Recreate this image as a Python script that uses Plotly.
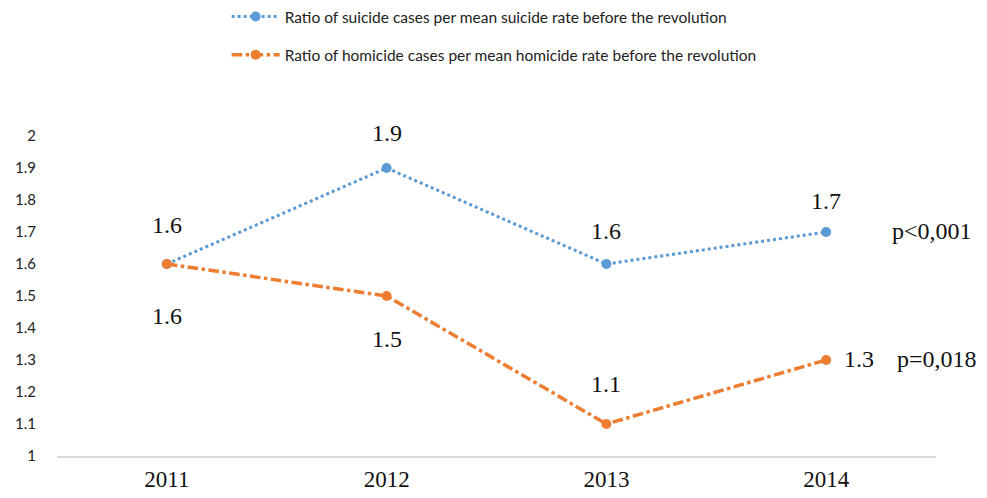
import plotly.graph_objects as go

years = ["2011", "2012", "2013", "2014"]
suicide = [1.6, 1.9, 1.6, 1.7]
homicide = [1.6, 1.5, 1.1, 1.3]
suicide_name = "Ratio of suicide cases per mean suicide rate before the revolution"
homicide_name = "Ratio of homicide cases per mean homicide rate before the revolution"
p_suicide = "p<0,001"
p_homicide = "p=0,018"

blue = "#5B9BD5"
orange = "#ED7D31"

fig = go.Figure()
fig.add_trace(go.Scatter(
    x=years, y=suicide, name=suicide_name, mode="lines+markers",
    line=dict(color=blue, width=3, dash="dot"),
    marker=dict(color=blue, size=10), legendgroup="a"))
fig.add_trace(go.Scatter(
    x=years, y=homicide, name=homicide_name, mode="lines+markers",
    line=dict(color=orange, width=3.5, dash="dashdot"),
    marker=dict(color=orange, size=10), legendgroup="b"))

lab_font = dict(family="Liberation Serif", size=24, color="#111")
s_shift = [(0, 39), (0, 35), (0, 33), (0, 31)]
h_shift = [(0, -52), (0, -43), (0, 40), (33, 1)]
for i, (y, (dx, dy)) in enumerate(zip(suicide, s_shift)):
    fig.add_annotation(x=i, y=y, text=f"{y:.1f}", showarrow=False,
                       xshift=dx, yshift=dy, font=lab_font)
for i, (y, (dx, dy)) in enumerate(zip(homicide, h_shift)):
    fig.add_annotation(x=i, y=y, text=f"{y:.1f}", showarrow=False,
                       xshift=dx, yshift=dy, font=lab_font)

last = len(years) - 1
fig.add_annotation(x=last, y=suicide[-1], text=p_suicide, showarrow=False,
                   xshift=106, yshift=1, font=lab_font)
fig.add_annotation(x=last, y=homicide[-1], text=p_homicide, showarrow=False,
                   xshift=111, yshift=1, font=lab_font)

fig.update_layout(
    width=987, height=498,
    margin=dict(l=57, r=51, t=136, b=42, autoexpand=False),
    paper_bgcolor="white", plot_bgcolor="white",
    showlegend=True,
    legend=dict(orientation="v", x=0.193, xanchor="left",
                y=1.425, yanchor="top",
                font=dict(family="Lato", size=15.5, color="#222"),
                tracegroupgap=15, itemwidth=48),
    xaxis=dict(type="category", range=[-0.5, 3.5], showgrid=False,
               showline=True, linecolor="#D9D9D9", linewidth=1.5,
               ticks="", tickfont=dict(family="Liberation Serif", size=23, color="#111"),
               zeroline=False),
    yaxis=dict(range=[1, 2], dtick=0.1, showgrid=False, zeroline=False,
               showline=False, ticks="", tickformat="~g",
               tickfont=dict(family="Lato", size=15, color="#222")),
)
fig.update_xaxes(ticklabelstandoff=2)
fig.update_yaxes(ticklabelstandoff=20)

fig.write_html("out.html")
